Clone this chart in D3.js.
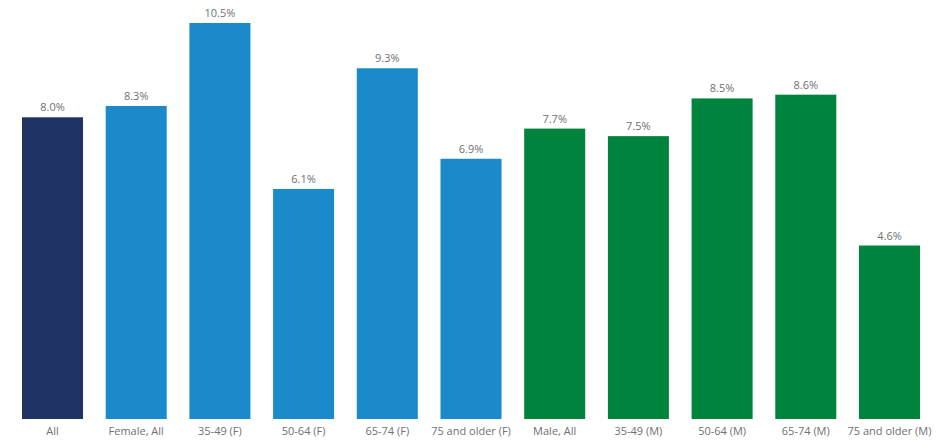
<!DOCTYPE html>
<html>
<head>
<meta charset="utf-8">
<script src="https://cdn.jsdelivr.net/npm/d3@7"></script>
<style>
  body { margin: 0; background: #fff; }
  text { font-family: "Open Sans", sans-serif; fill: #707070; }
</style>
</head>
<body>
<div id="chart"></div>
<script>
// data
var categories = ["All", "Female, All", "35-49 (F)", "50-64 (F)", "65-74 (F)", "75 and older (F)",
                  "Male, All", "35-49 (M)", "50-64 (M)", "65-74 (M)", "75 and older (M)"];
var values = [8.0, 8.3, 10.5, 6.1, 9.3, 6.9, 7.7, 7.5, 8.5, 8.6, 4.6];
var groups = ["all", "female", "female", "female", "female", "female",
              "male", "male", "male", "male", "male"];

var colors = {all: "#1f3462", female: "#1a8acb", male: "#00843d"};

var width = 943, height = 448;
var baseline = 419;

var svg = d3.select("#chart")
            .append("svg")
            .attr("width", width)
            .attr("height", height);

// x band scale
var x = d3.scaleBand()
    .domain(categories)
    .range([10.7, 931.3])
    .paddingInner(0.271)
    .paddingOuter(0.135);

// y scale
var y = d3.scaleLinear()
    .domain([0, 10.5])
    .range([baseline, 23]);

// bars
svg.append("g")
  .selectAll("rect")
    .data(values)
  .enter().append("rect")
    .attr("x", function(d, i) { return x(categories[i]); })
    .attr("y", function(d) { return y(d); })
    .attr("width", x.bandwidth())
    .attr("height", function(d) { return baseline - y(d); })
    .attr("fill", function(d, i) { return colors[groups[i]]; });

// value labels
svg.append("g")
  .selectAll("text")
    .data(values)
  .enter().append("text")
    .attr("x", function(d, i) { return x(categories[i]) + x.bandwidth() / 2; })
    .attr("y", function(d) { return y(d) - 6; })
    .style("text-anchor", "middle")
    .style("font-size", "11px")
    .text(function(d) { return d.toFixed(1) + "%"; });

// x axis labels
var xAxis = svg.append("g")
    .attr("transform", "translate(0," + baseline + ")")
    .call(d3.axisBottom(x).tickSize(0).tickPadding(8));

xAxis.select(".domain").remove();
xAxis.selectAll("text")
    .style("font-size", "11px")
    .style("font-family", "'Open Sans', sans-serif")
    .attr("fill", "#707070");
</script>
</body>
</html>
